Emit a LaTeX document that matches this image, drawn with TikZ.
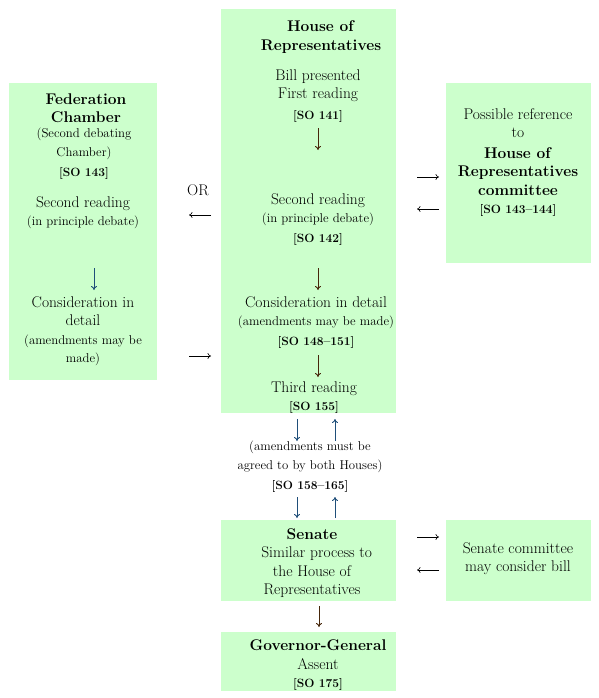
\documentclass[tikz,border=0pt]{standalone}
\usepackage{tikz}
\usetikzlibrary{arrows.meta}

\definecolor{boxgreen}{RGB}{204,255,204}
\definecolor{flowbrown}{RGB}{70,38,10}
\definecolor{flowblue}{RGB}{31,78,121}

\newcommand{\mainsize}{\fontsize{15.5}{18.5}\selectfont}
\newcommand{\smallsize}{\fontsize{12.8}{15}\selectfont}
\newcommand{\refsize}{\bfseries\fontsize{12}{14}\selectfont}

\tikzset{
    greenbox/.style={fill=boxgreen,draw=none,inner sep=0pt,anchor=north west},
    txt/.style={align=center,inner sep=0pt,font=\mainsize},
    flowarrow/.style={-{To[length=4pt,width=6pt]},line width=0.9pt},
    sidearrow/.style={-{To[length=3.5pt,width=6pt]},line width=0.6pt,black}
}

\begin{document}
\begin{tikzpicture}[x=1pt,y=-1pt]
    \useasboundingbox (0,0) rectangle (598,698);

    % boxes
    \node[greenbox,minimum width=175pt,minimum height=404pt] (hor)   at (221,9)   {};
    \node[greenbox,minimum width=148pt,minimum height=297pt] (fed)   at (9,83)    {};
    \node[greenbox,minimum width=145pt,minimum height=180pt] (ctee)  at (446,83)  {};
    \node[greenbox,minimum width=175pt,minimum height=81pt]  (sen)   at (221,520) {};
    \node[greenbox,minimum width=145pt,minimum height=81pt]  (sctee) at (446,520) {};
    \node[greenbox,minimum width=175pt,minimum height=59pt]  (gg)    at (221,632) {};

    % House of Representatives
    \node[txt] (horhead)   at (321,37)    {\textbf{House of}\\\textbf{Representatives}};
    \node[txt] (horfirst)  at (318,96)    {Bill presented\\First reading\\[2pt]{\refsize [SO 141]}};
    \node[txt] (horsecond) at (318,219.5) {Second reading\\{\smallsize (in principle debate)}\\[1pt]{\refsize [SO 142]}};
    \node[txt] (horcons)   at (316,322.5) {Consideration in detail\\{\smallsize (amendments may be made)}\\[1pt]{\refsize [SO 148--151]}};
    \node[txt] (horthird)  at (314,397.5) {Third reading\\{\refsize [SO 155]}};

    % Federation Chamber
    \node[txt] (fedhead)   at (86,108)   {\textbf{Federation}\\\textbf{Chamber}};
    \node[txt] (fednote)   at (84,154)   {\smallsize (Second debating\\\smallsize Chamber)\\[2pt]{\refsize [SO 143]}};
    \node[txt] (fedsecond) at (83,212.5) {Second reading\\{\smallsize (in principle debate)}};
    \node[txt] (fedcons)   at (83,331)   {Consideration in\\detail\\{\smallsize (amendments may be}\\{\smallsize made)}};
    \node[txt] (ortext)    at (198,190)  {OR};

    % committee
    \node[txt] (cteetext)  at (518,162.5) {Possible reference\\to\\[2pt]\textbf{House of}\\\textbf{Representatives}\\\textbf{committee}\\{\refsize [SO 143--144]}};

    % between the Houses
    \node[txt] (amendtext) at (310,467) {{\smallsize (amendments must be}\\{\smallsize agreed to by both Houses)}\\[2pt]{\refsize [SO 158--165]}};

    % Senate
    \node[txt] (sentext)   at (312,563)   {\textbf{Senate}\\\ \ Similar process to\\the House of\quad\\Representatives};
    \node[txt] (scteetext) at (518,558.5) {Senate committee\\may consider bill};

    % Governor-General
    \node[txt] (ggtext)    at (318,665.5) {\textbf{Governor-General}\\Assent\\{\refsize [SO 175]\qquad}};

    % arrow ends
    \coordinate (h1a) at (318,128); \coordinate (h1b) at (318,150);
    \coordinate (h2a) at (318,268); \coordinate (h2b) at (318,290);
    \coordinate (h3a) at (318,355); \coordinate (h3b) at (318,377);
    \coordinate (f1a) at (94,268);  \coordinate (f1b) at (94,290);
    \coordinate (ora) at (211,215); \coordinate (orb) at (189,215);
    \coordinate (bka) at (189,356); \coordinate (bkb) at (211,356);
    \coordinate (cta) at (417,177); \coordinate (ctb) at (439,177);
    \coordinate (crb) at (439,209); \coordinate (cra) at (417,209);
    \coordinate (d1a) at (297,419); \coordinate (d1b) at (297,441);
    \coordinate (u1a) at (335,441); \coordinate (u1b) at (335,419);
    \coordinate (d2a) at (297,497); \coordinate (d2b) at (297,518);
    \coordinate (u2a) at (335,518); \coordinate (u2b) at (335,497);
    \coordinate (sta) at (417,537); \coordinate (stb) at (439,537);
    \coordinate (srb) at (439,570); \coordinate (sra) at (417,570);
    \coordinate (gga) at (319,606); \coordinate (ggb) at (319,627);

    % flow arrows
    \draw[flowarrow,flowbrown] (h1a) -- (h1b);
    \draw[flowarrow,flowbrown] (h2a) -- (h2b);
    \draw[flowarrow,flowbrown] (h3a) -- (h3b);
    \draw[flowarrow,flowblue]  (f1a) -- (f1b);
    \draw[flowarrow,flowblue]  (d1a) -- (d1b);
    \draw[flowarrow,flowblue]  (u1a) -- (u1b);
    \draw[flowarrow,flowblue]  (d2a) -- (d2b);
    \draw[flowarrow,flowblue]  (u2a) -- (u2b);
    \draw[flowarrow,flowbrown] (gga) -- (ggb);

    % side arrows
    \draw[sidearrow] (ora) -- (orb);
    \draw[sidearrow] (bka) -- (bkb);
    \draw[sidearrow] (cta) -- (ctb);
    \draw[sidearrow] (crb) -- (cra);
    \draw[sidearrow] (sta) -- (stb);
    \draw[sidearrow] (srb) -- (sra);
\end{tikzpicture}
\end{document}
